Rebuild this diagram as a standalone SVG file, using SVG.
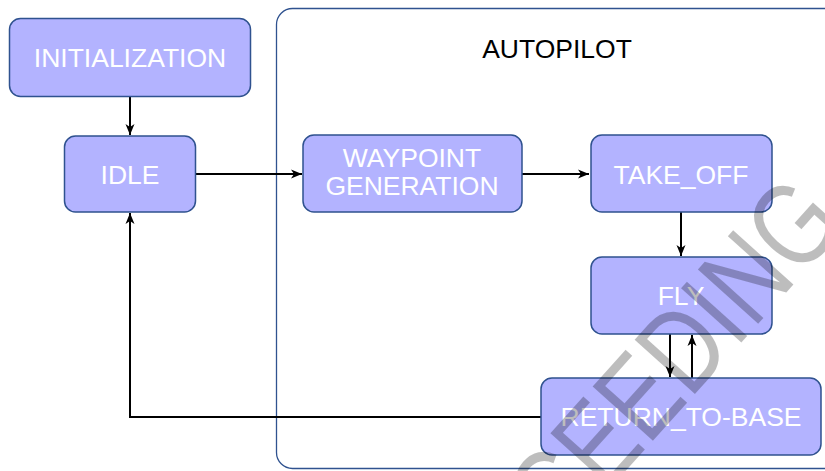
<svg xmlns="http://www.w3.org/2000/svg" width="825" height="471" viewBox="0 0 825 471">
<defs>
<style>
.box{fill:#b3b3ff;stroke:#2f528f;stroke-width:1.5}
.lbl{font-family:"Liberation Sans",Arial,sans-serif;font-size:26.5px;fill:#ffffff;text-anchor:middle}
.conn{fill:none;stroke:#000;stroke-width:2}
.wm{font-family:"Liberation Sans",Arial,sans-serif;font-size:118px;fill:#000;fill-opacity:0.26}
</style>
<marker id="arr" markerUnits="userSpaceOnUse" markerWidth="12" markerHeight="12" viewBox="0 0 12 12" refX="11" refY="6" orient="auto">
<path d="M0,1.5 L11,6 L0,10.5 L3,6 Z" fill="#000"/>
</marker>
</defs>
<rect width="825" height="471" fill="#fff"/>
<g id="autopilot">
<rect x="276.5" y="8.5" width="600" height="460" rx="16" fill="none" stroke="#2f528f" stroke-width="1.3"/>
<text x="557" y="58" font-family="'Liberation Sans',Arial,sans-serif" font-size="26.5" fill="#000" text-anchor="middle">AUTOPILOT</text>
</g>
<g id="connectors">
<line class="conn" x1="130" y1="97" x2="130" y2="135" marker-end="url(#arr)"/>
<line class="conn" x1="195" y1="174" x2="302" y2="174" marker-end="url(#arr)"/>
<line class="conn" x1="522" y1="174" x2="589" y2="174" marker-end="url(#arr)"/>
<line class="conn" x1="681" y1="212" x2="681" y2="256" marker-end="url(#arr)"/>
<line class="conn" x1="670" y1="334" x2="670" y2="377" marker-end="url(#arr)"/>
<line class="conn" x1="692" y1="378" x2="692" y2="335" marker-end="url(#arr)"/>
<polyline class="conn" points="541,417 130,417 130,213" marker-end="url(#arr)"/>
</g>
<g id="initialization">
<rect class="box" x="9.5" y="18.5" width="241" height="78" rx="11"/>
<text class="lbl" x="130" y="67">INITIALIZATION</text>
</g>
<g id="idle">
<rect class="box" x="64.5" y="136" width="131" height="76" rx="11"/>
<text class="lbl" x="130" y="184">IDLE</text>
</g>
<g id="waypoint_generation">
<rect class="box" x="303" y="135" width="219" height="77" rx="11"/>
<text class="lbl" x="412" y="167">WAYPOINT</text>
<text class="lbl" x="412" y="195">GENERATION</text>
</g>
<g id="take_off">
<rect class="box" x="591" y="135" width="181" height="77" rx="11"/>
<text class="lbl" x="681" y="184">TAKE_OFF</text>
</g>
<g id="fly">
<rect class="box" x="591" y="257" width="181" height="77" rx="11"/>
<text class="lbl" x="681" y="305">FLY</text>
</g>
<g id="return_to_base">
<rect class="box" x="541" y="378" width="280" height="77" rx="11"/>
<text class="lbl" x="681" y="426">RETURN_TO-BASE</text>
</g>
<g id="watermark">
<text class="wm" transform="translate(560,544) rotate(-48) scale(0.8,1)">CEEDING</text>
</g>
</svg>
